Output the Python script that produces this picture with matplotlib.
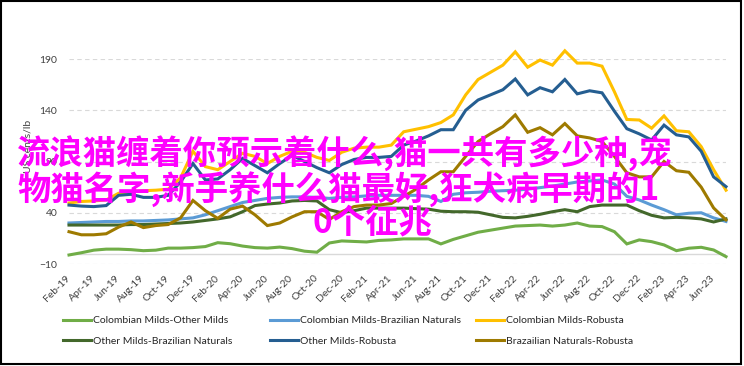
import matplotlib
matplotlib.use("Agg")
import matplotlib.pyplot as plt
from matplotlib.patches import Rectangle
import pandas as pd

# monthly spreads, Feb-19 .. Jul-23 (US cents/lb)
months = pd.date_range("2019-02-01", periods=54, freq="MS")
month_labels = [m.strftime("%b-%y") for m in months]

cm_om = [-1.2, 1, 3.5, 4.5, 4.5, 4, 3, 3.5, 5.5, 5.5, 6, 7, 10.8, 9.8, 7.5, 6, 5.5, 6.5,
         5, 2.5, 1.5, 10.5, 12.5, 12, 11.5, 13, 13.5, 14.5, 14.5, 14.5, 9.6, 14, 17.5, 21,
         23, 25, 27, 27.5, 28, 27, 28, 30, 27, 26.5, 21.5, 9.6, 13.5, 11.8, 8.6, 3, 5.4,
         6.3, 3.7, -2.8]
cm_bn = [30, 30.5, 31, 31.5, 31.5, 32, 32, 32.5, 33, 34, 35, 38, 42, 46, 50, 52, 54, 55,
         55.5, 55.5, 55, 54, 55, 55.5, 56.5, 57, 57, 57, 57, 56, 51, 58, 59.5, 60, 61, 61.5,
         62, 63, 64.5, 66, 68, 70, 71, 72, 68, 56, 52.5, 47.5, 43, 38, 39.5, 40, 35, 31.5]
cm_r = [49.5, 51, 51.5, 52.5, 59, 60.5, 61.5, 62, 63, 74, 100, 85, 82, 90, 98, 95, 88, 95,
        100, 99, 94, 91, 99, 103, 104, 104, 106, 119, 121.5, 124, 128, 135.5, 155, 170, 177,
        184, 197, 182, 189, 184, 198, 186, 186, 183, 158, 131, 130.5, 122.5, 134.5, 120, 119,
        104.5, 82, 62]
om_bn = [28, 28, 28, 28, 28, 28.5, 28.5, 29, 29.5, 30, 31, 32.5, 34, 36, 41, 47, 48.5, 49.5,
         51.5, 52, 51.5, 43, 40, 42, 44.5, 44.5, 44.5, 44.5, 44, 43.5, 41.5, 41, 41, 40.5, 38,
         35.5, 35, 36.5, 38.5, 41, 43, 41, 46, 47.5, 47.5, 47.5, 42, 37.5, 35, 35.5, 35, 34,
         31, 34]
om_r = [47.5, 46.5, 46, 47, 57, 58, 55, 55, 57, 70, 88, 72, 73, 82, 93, 86, 79, 88, 96, 90,
        84, 79, 87, 92, 94, 94, 95, 106, 110, 115, 121, 121, 140, 150, 155, 160, 170.5, 155,
        162, 158, 170, 156, 159, 157, 139, 122, 117, 111, 125.5, 116, 114, 100, 75, 65.5]
bn_r = [21.5, 18.5, 18.5, 19.5, 26, 31, 25.5, 27.5, 28.5, 35, 52, 42, 34.5, 43.5, 46.5, 38,
        27.5, 30, 36, 41, 41, 33.5, 41, 46, 47.5, 47.5, 49, 56, 63, 72, 80, 80, 95, 109.5,
        117, 124, 135.5, 118.5, 123, 116, 127, 115, 113, 109.5, 95, 79, 75, 75, 90, 81, 79.5,
        65, 44.7, 33]

series = [
    ("Colombian Milds-Other Milds", cm_om, "#70AD47"),
    ("Colombian Milds-Brazilian Naturals", cm_bn, "#5B9BD5"),
    ("Colombian Milds-Robusta", cm_r, "#FFC000"),
    ("Other Milds-Brazilian Naturals", om_bn, "#43682B"),
    ("Other Milds-Robusta", om_r, "#255E91"),
    ("Brazailian Naturals-Robusta", bn_r, "#9E7A00"),
]

plt.rcParams["font.family"] = ["Lato", "DejaVu Sans"]

W, H = 744, 366
fig = plt.figure(figsize=(W / 100, H / 100), dpi=100)
ax = fig.add_axes([69 / W, 1 - 264 / H, (726 - 69) / W, (264 - 59) / H])

x = list(range(len(months)))
handles = []
for name, vals, col in series:
    h, = ax.plot(x, vals, color=col, lw=2.2, label=name, solid_joinstyle="miter",
                 zorder=3, clip_on=False)
    handles.append(h)

ax.set_xlim(0, len(months) - 1)
ax.set_ylim(-10, 190)
ax.set_yticks([-10, 40, 90, 140, 190])
ax.set_xticks(x[::2])
ax.set_xticklabels(month_labels[::2], rotation=45, ha="right", va="center",
                   rotation_mode="anchor")
ax.tick_params(axis="x", length=0, pad=9, labelsize=7.5, labelcolor="#404040")
ax.tick_params(axis="y", length=0, pad=8.5, labelsize=7.5, labelcolor="#404040")
for s in ax.spines.values():
    s.set_visible(False)
ax.grid(axis="y", color="#D9D9D9", lw=0.8, linestyle=(0, (4, 3)))
ax.axhline(0, color="#D9D9D9", lw=1.0, zorder=1)

fig.text(28 / W, 1 - 146 / H, "US cents/lb", rotation=90, ha="center", va="center",
         fontsize=7.5, color="#404040")

# legend: three columns of two rows
cols_x = [63, 270, 476]
for k in range(3):
    leg = fig.legend([handles[k], handles[k + 3]], [series[k][0], series[k + 3][0]],
                     loc="upper left", bbox_to_anchor=(cols_x[k] / W, 1 - 316 / H),
                     frameon=False, fontsize=7.5, handlelength=2.7, handletextpad=0.15,
                     labelspacing=1.05, borderpad=0, borderaxespad=0)
    for t in leg.get_texts():
        t.set_color("#262626")

# overlay text
cjk = ["Noto Sans CJK SC", "DejaVu Sans"]
overlay = ["流浪猫缠着你预示着什么,猫一共有多少种,宠",
           "物猫名字,新手养什么猫最好,狂犬病早期的1",
           "0个征兆"]
fig.text(17 / W, 1 - 154 / H, overlay[0], family=cjk, fontsize=24,
         fontweight="bold", color="#FF00FF", ha="left", va="center", zorder=10)
fig.text(17 / W, 1 - 189 / H, overlay[1], family=cjk, fontsize=24,
         fontweight="bold", color="#FF00FF", ha="left", va="center", zorder=10)
fig.text(372 / W, 1 - 223 / H, overlay[2], family=cjk, fontsize=24,
         fontweight="bold", color="#FF00FF", ha="center", va="center", zorder=10)

fig.patches.append(Rectangle((1 / W, 2 / H), 740 / W, 363 / H, transform=fig.transFigure,
                             fill=False, edgecolor="black", lw=1.5))

fig.savefig("out.png", dpi=100)
